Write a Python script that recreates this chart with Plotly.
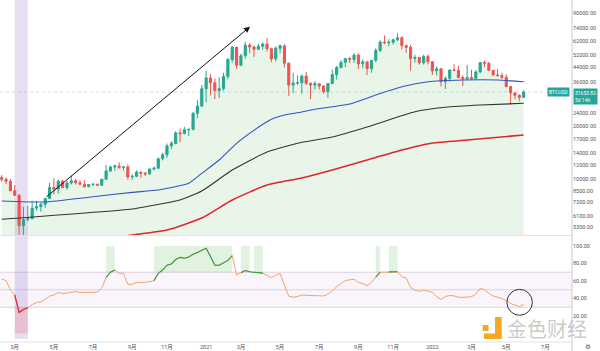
import numpy as np
import pandas as pd
import plotly.graph_objects as go

# ---------------- data ----------------
week_start = "2020-02-10"
n_weeks = 121
dates = pd.date_range(week_start, periods=n_weeks, freq="7D")

opens = [10150, 9920, 9670, 8530, 8030, 5360, 5830, 5880, 6780, 6910,
         7120, 7700, 8900, 8720, 9680, 8900, 9450, 9750, 9470, 9300,
         9010, 9270, 9300, 9170, 9930, 11100, 11680, 11850, 11650, 11700,
         10250, 10330, 10920, 10770, 10670, 11380, 11500, 13030, 13740, 15480,
         15960, 18400, 18180, 19150, 19270, 23860, 26270, 33000, 38150, 35800,
         32260, 33100, 38900, 48600, 57400, 45100, 51200, 59000, 57500, 55800,
         58100, 59800, 56200, 49100, 56600, 58400, 46400, 34700, 35700, 35800,
         39100, 35500, 34700, 35300, 34250, 31800, 35400, 39900, 43800, 47000,
         49300, 48800, 51700, 46000, 47250, 43200, 48200, 54900, 61500, 60900,
         61300, 63300, 65000, 58600, 57300, 49400, 50100, 46700, 50800, 47300,
         41900, 43100, 36300, 37900, 42400, 42200, 38400, 37700, 38400, 37800,
         41300, 46800, 46400, 42200, 39700, 39450, 38470, 34000, 31300, 30300,
         29450]
highs = [10500, 10200, 9970, 9190, 8180, 6900, 6980, 7470, 7470, 7300,
         7750, 9470, 10070, 9930, 9850, 9740, 10430, 10000, 9800, 9800,
         9300, 9450, 9350, 9980, 12000, 11900, 12100, 12470, 11780, 12090,
         10600, 11180, 10990, 10970, 11480, 11740, 13240, 14100, 15970, 16480,
         18800, 19480, 19920, 19420, 24250, 28400, 34800, 41950, 40100, 37900,
         38550, 40900, 49700, 58350, 57500, 52600, 61800, 60600, 58500, 60200,
         61200, 64900, 57000, 58000, 59500, 59600, 46700, 40900, 39500, 40000,
         41300, 36000, 36600, 35500, 34600, 35400, 42600, 44800, 48200, 49400,
         50500, 52900, 52900, 48800, 47350, 48400, 56600, 62900, 67000, 63700,
         64300, 69000, 66300, 59300, 59100, 51900, 50300, 51900, 52100, 47600,
         44500, 43500, 38900, 42600, 45800, 44800, 39500, 45400, 42600, 42300,
         47000, 48200, 47200, 42400, 42900, 40800, 40000, 34200, 31400, 30700,
         32400]
lows = [9630, 9300, 8500, 8000, 3850, 4440, 5690, 5860, 6570, 6470,
        6820, 7670, 8120, 8200, 8820, 8630, 9260, 9250, 9200, 8850,
        8900, 9070, 9080, 9120, 9920, 10960, 11130, 11400, 11150, 9880,
        9850, 10210, 10150, 10370, 10530, 11200, 11420, 12750, 13200, 14830,
        15800, 16200, 18100, 17600, 19000, 22350, 25900, 27700, 30300, 28800,
        29200, 32200, 37400, 46700, 43000, 44950, 49300, 53200, 50400, 55500,
        55500, 54000, 47000, 47500, 53000, 43800, 30000, 31200, 34800, 31000,
        34800, 28800, 32700, 32700, 31000, 29300, 35200, 37400, 43300, 43900,
        46400, 46600, 42800, 43300, 39600, 40800, 47000, 53900, 59600, 58000,
        59400, 62300, 55600, 53300, 42000, 46800, 45500, 45600, 45700, 39700,
        39400, 34000, 32900, 36300, 41700, 38000, 34300, 37200, 37200, 37600,
        40500, 44200, 41900, 39200, 38600, 37600, 33700, 26700, 28700, 28000,
        29300]
closes = [9920, 9670, 8530, 8030, 5360, 5830, 5880, 6780, 6910, 7120,
          7700, 8900, 8720, 9680, 8900, 9450, 9750, 9470, 9300, 9010,
          9270, 9300, 9170, 9930, 11100, 11680, 11850, 11650, 11700, 10250,
          10330, 10920, 10770, 10670, 11380, 11500, 13030, 13740, 15480, 15960,
          18400, 18180, 19150, 19270, 23860, 26270, 33000, 38150, 35800, 32260,
          33100, 38900, 48600, 57400, 45100, 51200, 59000, 57500, 55800, 58100,
          59800, 56200, 49100, 56600, 58400, 46400, 34700, 35700, 35800, 39100,
          35500, 34700, 35300, 34250, 31800, 35400, 39900, 43800, 47000, 49300,
          48800, 51700, 46000, 47250, 43200, 48200, 54900, 61500, 60900, 61300,
          63300, 65000, 58600, 57300, 49400, 50100, 46700, 50800, 47300, 41900,
          43100, 36300, 37900, 42400, 42200, 38400, 37700, 38400, 37800, 41300,
          46800, 46400, 42200, 39700, 39450, 38470, 34000, 31300, 30300, 29450,
          31653.82]

rsi = [62, 60.5, 50, 44, 24, 27.5, 29.5, 33, 35.3, 36.2,
       39, 42.7, 44, 47, 45.5, 46.5, 47.5, 48, 47, 46.8,
       46.6, 47, 47.5, 51.6, 64, 70, 72.5, 68.8, 68.8, 56,
       56.3, 58.4, 58.1, 58.3, 59.2, 60.4, 68.8, 72.5, 78, 79.5,
       84.5, 87, 86, 87.5, 90.5, 92.5, 94.5, 97.4, 88, 78,
       78, 80.5, 83.5, 89, 67, 69.5, 72, 70.5, 70, 70,
       69, 66.5, 64, 66.5, 68.5, 55, 42.5, 41.5, 42.3, 44,
       43.5, 43.2, 43.2, 43.1, 42.9, 45, 48.5, 53.5, 57.5, 60.4,
       61.3, 62, 58.5, 57, 54.5, 58.3, 64.5, 70, 70, 70.4,
       70.6, 70.5, 65, 63.5, 52.5, 49.7, 48.3, 49.8, 48.5, 47,
       42, 39, 42.2, 43.5, 43, 41.4, 41.4, 41.6, 42, 45,
       51.5, 50.3, 45.7, 42.9, 41.8, 40, 37.3, 34.2, 32.6, 30.8,
       33.2]

bull_spans = [(25, 26), (36, 53), (56, 57), (59, 60), (87, 87), (90, 91)]
bear_spans = [(4, 6)]

ma_blue_idx = [0, 10, 20, 30, 36, 43, 46, 50, 54, 59, 62, 65, 69, 72, 80, 86, 92, 98, 106, 114, 120]
ma_blue = [7440, 7345, 7820, 8350, 8615, 9415, 10750, 12830, 16010, 19810, 22020,
           23320, 24270, 25160, 26990, 30410, 33950, 36280, 37110, 37110, 36280]
ma_black_idx = [0, 30, 34, 41, 46, 53, 61, 69, 76, 84, 95, 102, 110, 120]
ma_black = [5840, 6693, 6965, 7545, 8500, 11230, 14260, 16230, 17410, 19890,
            24360, 25830, 26630, 27240]
ma_red_idx = [22, 30, 38, 46, 53, 61, 69, 76, 84, 92, 99, 107, 120]
ma_red = [4435, 4738, 5064, 5938, 7545, 9205, 10100, 11230, 12830, 14650,
          16080, 16740, 17880]

price_ticks = [5300, 6100, 7300, 8500, 10000, 12000, 14000, 17000, 20000,
               24000, 36000, 44000, 52000, 62000, 74000, 90000]
rsi_ticks = [20, 40, 60, 80, 100]
tick_dates = ["2020-03-02", "2020-05-04", "2020-07-06", "2020-09-07", "2020-11-02",
              "2021-01-04", "2021-03-01", "2021-05-03", "2021-07-05", "2021-09-06",
              "2021-11-01", "2022-01-03", "2022-03-07", "2022-05-02", "2022-07-04"]
tick_labels = ["3月", "5月", "7月", "9月", "11月", "2021", "3月", "5月", "7月",
               "9月", "11月", "2022", "3月", "5月", "7月"]

symbol = "BTCUSD"
countdown = "5d 14h"
arrow_start = ("2020-04-20", 7750)
arrow_end = ("2021-03-15 14:00", 75300)
circle_box = ("2022-05-03", "2022-06-13", 20.8, 50.5)

# ---------------- layout constants ----------------
W, H = 600, 351
ML, MR, MT, MB = 0, 28, 0, 9
PH = H - MT - MB  # plot height px
PW = W - ML - MR
x_range = ["2020-02-07 06:20", "2022-08-15 19:00"]
price_dom = [1 - 235 / PH, 1]
rsi_dom = [0, 1 - 236 / PH]
log_range = [3.6757, 5.0309]
rsi_range = [-9.7, 111.4]

GREEN = "#26a69a"
RED = "#ef5350"
FONT = "Roboto, Noto Sans CJK SC, sans-serif"


def px_x(px):
    return (px - ML) / PW


def px_y(py):
    return 1 - (py - MT) / PH


fig = go.Figure()

# area fill under price
fig.add_trace(go.Scatter(x=dates, y=[1000] * n_weeks, mode="lines",
                         line=dict(width=0), hoverinfo="skip", showlegend=False,
                         xaxis="x", yaxis="y"))
fig.add_trace(go.Scatter(x=dates, y=closes, mode="lines", line=dict(width=0),
                         fill="tonexty", fillcolor="rgba(76,175,80,0.13)",
                         hoverinfo="skip", showlegend=False, xaxis="x", yaxis="y"))

# moving averages
for idx, vals, col, wd in [(ma_red_idx, ma_red, "#e0262b", 1.5),
                           (ma_black_idx, ma_black, "#333333", 1.1),
                           (ma_blue_idx, ma_blue, "#2f56c4", 1.1)]:
    fig.add_trace(go.Scatter(x=dates[idx], y=vals, mode="lines",
                             line=dict(color=col, width=wd, shape="spline", smoothing=0.5),
                             hoverinfo="skip", showlegend=False, xaxis="x", yaxis="y"))

# current price line
fig.add_trace(go.Scatter(x=[x_range[0], x_range[1]], y=[closes[-1]] * 2, mode="lines",
                         line=dict(color="rgba(120,160,160,0.35)", width=1, dash="dot"),
                         hoverinfo="skip", showlegend=False, xaxis="x", yaxis="y"))

# candles
fig.add_trace(go.Candlestick(x=dates, open=opens, high=highs, low=lows, close=closes,
                             increasing=dict(line=dict(color=GREEN, width=1), fillcolor=GREEN),
                             decreasing=dict(line=dict(color=RED, width=1), fillcolor=RED),
                             whiskerwidth=0, showlegend=False, xaxis="x", yaxis="y"))

# RSI
flag = np.zeros(n_weeks, dtype=int)
for a, b in bull_spans:
    flag[a:b + 1] = 1
for a, b in bear_spans:
    flag[a:b + 1] = -1


def segment(val):
    out = [None] * n_weeks
    for i in range(n_weeks):
        if flag[i] == val or (i + 1 < n_weeks and flag[i + 1] == val):
            out[i] = rsi[i]
    return out


fig.add_trace(go.Scatter(x=dates, y=rsi, mode="lines", line=dict(color="#f2a46c", width=1),
                         hoverinfo="skip", showlegend=False, xaxis="x2", yaxis="y2"))
fig.add_trace(go.Scatter(x=dates, y=segment(1), mode="lines", line=dict(color="#2e9d3a", width=1.1),
                         connectgaps=False, hoverinfo="skip", showlegend=False, xaxis="x2", yaxis="y2"))
fig.add_trace(go.Scatter(x=dates, y=segment(-1), mode="lines", line=dict(color="#e0173c", width=1.1),
                         connectgaps=False, hoverinfo="skip", showlegend=False, xaxis="x2", yaxis="y2"))

shapes = []
# RSI band and levels
shapes.append(dict(type="rect", xref="paper", yref="y2", x0=0, x1=1, y0=30, y1=70,
                   fillcolor="rgba(170,110,190,0.07)", line=dict(width=0), layer="below"))
for lv in (30, 50, 70):
    shapes.append(dict(type="line", xref="paper", yref="y2", x0=0, x1=1, y0=lv, y1=lv,
                       line=dict(color="#ddd0e2", width=1), layer="below"))
for a, b in bull_spans:
    shapes.append(dict(type="rect", xref="x2", yref="y2", x0=dates[a - 1], x1=dates[b],
                       y0=70, y1=100, fillcolor="rgba(76,175,80,0.17)", line=dict(width=0),
                       layer="below"))
for a, b in bear_spans:
    shapes.append(dict(type="rect", xref="x2", yref="y2", x0=dates[a - 1], x1=dates[b],
                       y0=0, y1=30, fillcolor="rgba(239,83,80,0.22)", line=dict(width=0),
                       layer="below"))
    shapes.append(dict(type="rect", xref="x", yref="paper", x0=dates[a - 1], x1=dates[b],
                       y0=px_y(339), y1=1, fillcolor="rgba(149,117,205,0.24)",
                       line=dict(width=0), layer="below"))
# circle on RSI
shapes.append(dict(type="circle", xref="x2", yref="y2", x0=circle_box[0], x1=circle_box[1],
                   y0=circle_box[2], y1=circle_box[3], line=dict(color="#333333", width=1)))
# pane separator and right axis line
shapes.append(dict(type="line", xref="paper", yref="paper", x0=0, x1=1,
                   y0=px_y(235.5), y1=px_y(235.5), line=dict(color="#e0e3eb", width=1)))
shapes.append(dict(type="line", xref="paper", yref="paper", x0=1, x1=1,
                   y0=-MB / PH, y1=1, line=dict(color="#c8cbd3", width=1)))
shapes.append(dict(type="line", xref="paper", yref="paper", x0=0, x1=1,
                   y0=0, y1=0, line=dict(color="#e0e3eb", width=1)))
# watermark logo
LOGO = "#f5a623"
for (x0, y0, x1, y1) in [(482.7, 325, 488.5, 331), (495, 317, 501.7, 339),
                         (484, 333.5, 501.7, 339)]:
    shapes.append(dict(type="rect", xref="paper", yref="paper", x0=px_x(x0), x1=px_x(x1),
                       y0=px_y(y1), y1=px_y(y0), fillcolor=LOGO, line=dict(width=0)))

annotations = []
annotations.append(dict(x=arrow_end[0], y=np.log10(arrow_end[1]), ax=arrow_start[0],
                        ay=np.log10(arrow_start[1]), xref="x", yref="y", axref="x", ayref="y",
                        showarrow=True, arrowhead=2, arrowsize=1.2, arrowwidth=1,
                        arrowcolor="#111111", text=""))
annotations.append(dict(x=px_x(569.5), y=np.log10(closes[-1]), xref="paper", yref="y",
                        xanchor="right", yanchor="middle", text=symbol, showarrow=False,
                        bgcolor=GREEN, font=dict(color="white", size=5, family=FONT),
                        borderpad=1))
annotations.append(dict(x=px_x(573), y=np.log10(closes[-1]), xref="paper", yref="y",
                        xanchor="left", yanchor="top", yshift=4,
                        text=f"{closes[-1]:.2f}<br>{countdown}", showarrow=False,
                        bgcolor=GREEN, font=dict(color="white", size=5, family=FONT),
                        borderpad=1, align="left"))
annotations.append(dict(x=px_x(547), y=px_y(328), xref="paper", yref="paper",
                        xanchor="center", yanchor="middle",
                        text="金色财经", showarrow=False,
                        font=dict(color="rgba(185,185,185,0.75)", size=20,
                                  family="Noto Sans CJK SC")))
annotations.append(dict(x=px_x(588), y=px_y(347), xref="paper", yref="paper",
                        xanchor="center", yanchor="middle",
                        text="⚙", showarrow=False,
                        font=dict(color="#555555", size=6.5, family="DejaVu Sans")))

fig.update_layout(
    width=W, height=H, margin=dict(l=ML, r=MR, t=MT, b=MB),
    paper_bgcolor="white", plot_bgcolor="white", showlegend=False,
    font=dict(family=FONT, size=5.5, color="#555555"),
    shapes=shapes, annotations=annotations,
    xaxis=dict(domain=[0, 1], anchor="y", range=x_range, type="date",
               showticklabels=False, showgrid=False, zeroline=False,
               rangeslider=dict(visible=False), showline=False, ticks=""),
    xaxis2=dict(domain=[0, 1], anchor="y2", matches="x", range=x_range, type="date",
                tickmode="array", tickvals=tick_dates, ticktext=tick_labels,
                tickfont=dict(size=5.5, color="#555555", family=FONT),
                showgrid=False, zeroline=False, showline=False, ticks=""),
    yaxis=dict(domain=price_dom, anchor="x", type="log", range=log_range, side="right",
               tickmode="array", tickvals=price_ticks,
               ticktext=[f"{v:.2f}" for v in price_ticks],
               tickfont=dict(size=5.5, color="#555555", family=FONT),
               showgrid=False, zeroline=False, showline=False, ticks=""),
    yaxis2=dict(domain=rsi_dom, anchor="x2", range=rsi_range, side="right",
                tickmode="array", tickvals=rsi_ticks,
                ticktext=[f"{v:.2f}" for v in rsi_ticks],
                tickfont=dict(size=5.5, color="#555555", family=FONT),
                showgrid=False, zeroline=False, showline=False, ticks=""),
)

fig.write_html("out.html")
